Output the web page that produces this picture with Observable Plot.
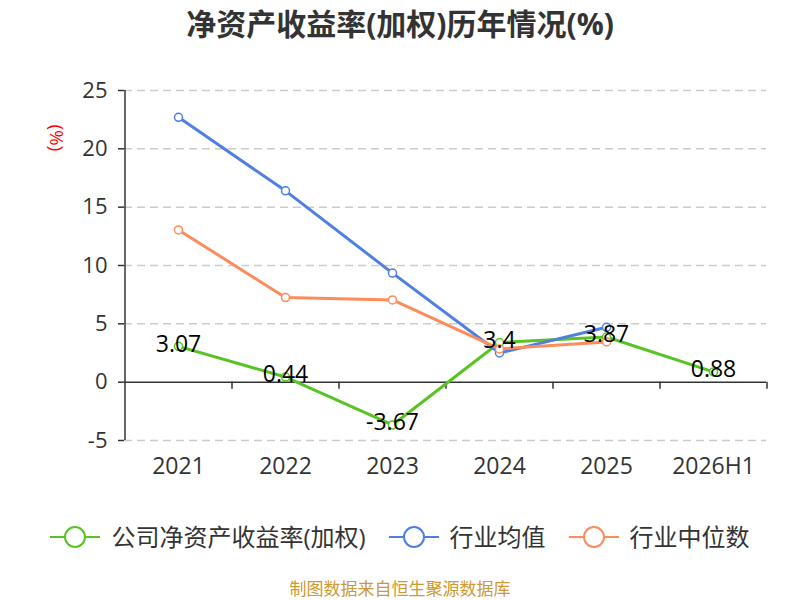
<!DOCTYPE html>
<html>
<head>
<meta charset="utf-8">
<script src="https://cdn.jsdelivr.net/npm/d3@7"></script>
<script src="https://cdn.jsdelivr.net/npm/@observablehq/plot@0.6"></script>
<style>
  html, body { margin: 0; padding: 0; background: #fff; }
  #wrap { position: relative; width: 800px; height: 600px; overflow: hidden; font-family: "Open Sans", "Noto Sans CJK SC", sans-serif; }
  #title { height: 50px; line-height: 48px; text-align: center; font-size: 30px; font-weight: bold; color: #333; }
  #legend { position: absolute; left: 0; top: 522px; width: 800px; height: 30px; display: flex; justify-content: center; align-items: center; gap: 23px; }
  .item { display: flex; align-items: center; gap: 11px; font-size: 24px; color: #333; line-height: 30px; }
  #caption { position: absolute; left: 0; top: 577px; width: 800px; text-align: center; font-size: 17px; color: #cc9933; line-height: 24px; }
</style>
</head>
<body>
<div id="wrap">
  <div id="title">净资产收益率(加权)历年情况(%)</div>
  <div id="chart"></div>
  <div id="legend"></div>
  <div id="caption">制图数据来自恒生聚源数据库</div>
</div>
<script>
const categories = ["2021", "2022", "2023", "2024", "2025", "2026H1"];
const companyROE = [3.07, 0.44, -3.67, 3.4, 3.87, 0.88];
const industryAvg = [22.7, 16.4, 9.35, 2.5, 4.7];
const industryMedian = [13.05, 7.25, 7.05, 2.85, 3.45];
const yTicks = [-5, 0, 5, 10, 15, 20, 25];
const seriesNames = ["公司净资产收益率(加权)", "行业均值", "行业中位数"];
const seriesColors = ["#58c322", "#4e7fe1", "#fd8c5c"];
const yLabel = "(%)";

const seriesValues = [companyROE, industryAvg, industryMedian];
const rows = [];
seriesValues.forEach((vals, s) => {
  vals.forEach((v, i) => rows.push({series: seriesNames[s], category: categories[i], value: v}));
});
const companyRows = rows.filter(d => d.series === seriesNames[0]);

const lineMarks = [];
seriesNames.forEach((name, s) => {
  lineMarks.push(Plot.line(rows.filter(d => d.series === name), {
    x: "category", y: "value", stroke: seriesColors[s], strokeWidth: 3
  }));
});
const dotMarks = [];
seriesNames.forEach((name, s) => {
  dotMarks.push(Plot.dot(rows.filter(d => d.series === name), {
    x: "category", y: "value", r: 4, fill: "white", stroke: seriesColors[s], strokeWidth: 1.5
  }));
});

const chart = Plot.plot({
  width: 800,
  height: 430,
  marginTop: 40,
  marginBottom: 40,
  marginLeft: 124,
  marginRight: 34,
  x: {type: "point", domain: categories, padding: 0.5},
  y: {domain: [-5, 25]},
  style: {fontFamily: "'Open Sans', 'Noto Sans CJK SC', sans-serif", fontSize: "22px", color: "#333", background: "white", overflow: "visible"},
  marks: [
    Plot.gridY(yTicks.filter(v => v !== 0), {stroke: "#ccc", strokeOpacity: 1, strokeDasharray: "8 5", strokeWidth: 1.5}),
    Plot.axisY(yTicks, {tickSize: 6, tickPadding: 11, label: null, strokeWidth: 1.5, tickFormat: d => String(d)}),
    Plot.axisX({tickSize: 0, tickPadding: 17, label: null, fontSize: 23}),
    Plot.ruleY([0], {stroke: "#333", strokeWidth: 1.5}),
    Plot.ruleX(categories.slice(0, 1), {dx: -53.5, y1: yTicks[0], y2: yTicks[yTicks.length - 1], stroke: "#333", strokeWidth: 1.5}),
    Plot.ruleX(categories, {dx: 53.5, y1: 0, y2: -0.6, stroke: "#333", strokeWidth: 1.5}),
    Plot.text([yLabel], {frameAnchor: "top-left", dx: -61, dy: 34, rotate: 90, fill: "red", fontSize: 19}),
    ...lineMarks,
    ...dotMarks,
    Plot.text(companyRows, {x: "category", y: "value", text: d => String(d.value), dy: -2, fill: "black", fontSize: 23})
  ]
});
document.getElementById("chart").appendChild(chart);

const legend = document.getElementById("legend");
seriesNames.forEach((name, s) => {
  const item = document.createElement("div");
  item.className = "item";
  const c = seriesColors[s];
  item.innerHTML = `<svg width="50" height="26" viewBox="0 0 50 26"><line x1="0" y1="13" x2="50" y2="13" stroke="${c}" stroke-width="2"/><circle cx="25" cy="13" r="10" fill="white" stroke="${c}" stroke-width="2"/></svg><span>${name}</span>`;
  legend.appendChild(item);
});
</script>
</body>
</html>
